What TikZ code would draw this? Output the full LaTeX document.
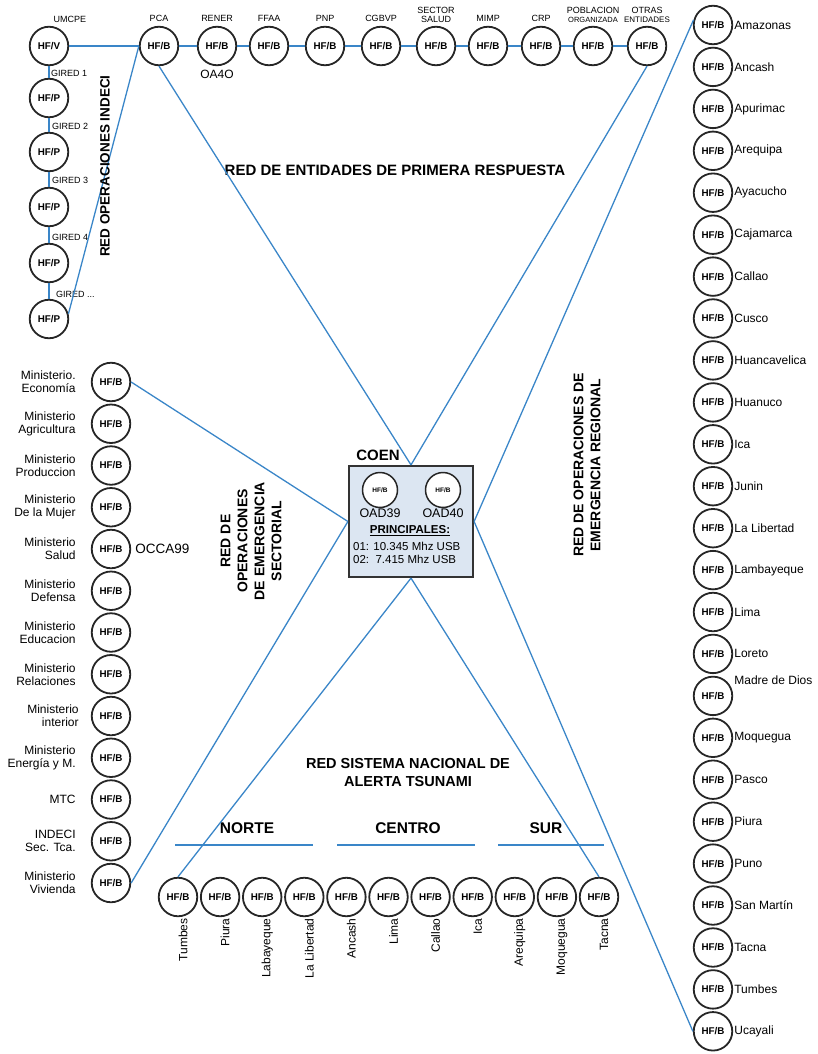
\documentclass[tikz,border=0pt]{standalone}
\usepackage{fontspec}
\setmainfont{Liberation Sans}
\usepackage{xcolor}
\definecolor{linkblue}{RGB}{58,134,200}
\definecolor{boxblue}{RGB}{220,230,242}

\begin{document}
\begin{tikzpicture}[x=1pt,y=-1pt,
  hf/.style={circle,draw=black!85,line width=1.8pt,fill=white,minimum size=38.5pt,inner sep=0pt,font=\bfseries\fontsize{9.8}{10}\selectfont},
  hfsmall/.style={hf,minimum size=35pt,line width=1.5pt,font=\bfseries\fontsize{6.5}{7}\selectfont},
  link/.style={draw=linkblue,line width=1.3pt},
  tag/.style={font=\fontsize{9}{9.5}\selectfont,inner sep=1pt},
  lbl/.style={font=\fontsize{12}{13}\selectfont,inner sep=1pt},
  big/.style={font=\fontsize{12.5}{14}\selectfont,inner sep=1pt},
  heading/.style={font=\bfseries\fontsize{14}{17}\selectfont,align=center},
  sect/.style={font=\bfseries\fontsize{15.5}{17}\selectfont}]

\useasboundingbox (0,0) rectangle (817,1054);

%red indeci
\node [hf,label={[tag,xshift=21pt,label distance=2pt]above:UMCPE}] (umcpe) at (49,46) {HF/V};
\node [hf] (gired1) at (49,98) {HF/P};
\node [hf] (gired2) at (49,152) {HF/P};
\node [hf] (gired3) at (49,207) {HF/P};
\node [hf] (gired4) at (49,263) {HF/P};
\node [hf] (gired5) at (49,319) {HF/P};
\node [tag,anchor=west] (t1) at (50,73) {GIRED 1};
\node [tag,anchor=west] (t2) at (51,126) {GIRED 2};
\node [tag,anchor=west] (t3) at (51,180) {GIRED 3};
\node [tag,anchor=west] (t4) at (51,237) {GIRED 4};
\node [tag,anchor=west] (t5) at (55,294) {GIRED ...};
\draw [link] (umcpe) -- (gired1) (gired1) -- (gired2) (gired2) -- (gired3) (gired3) -- (gired4) (gired4) -- (gired5) ;

%primera respuesta
\node [hf,label={[tag,label distance=3pt]above:PCA}] (pca) at (159,46) {HF/B};
\node [hf,label={[tag,label distance=3pt]above:RENER},label={[big,font=\fontsize{12}{14}\selectfont,label distance=3pt]below:OA4O}] (rener) at (217,46) {HF/B};
\node [hf,label={[tag,label distance=3pt]above:FFAA}] (ffaa) at (269,46) {HF/B};
\node [hf,label={[tag,label distance=3pt]above:PNP}] (pnp) at (325,46) {HF/B};
\node [hf,label={[tag,label distance=3pt]above:CGBVP}] (cgbvp) at (381,46) {HF/B};
\node [hf,label={[tag,align=center,label distance=2pt]above:SECTOR\\SALUD}] (salud) at (436,46) {HF/B};
\node [hf,label={[tag,label distance=3pt]above:MIMP}] (mimp) at (488,46) {HF/B};
\node [hf,label={[tag,label distance=3pt]above:CRP}] (crp) at (541,46) {HF/B};
\node [hf,label={[tag,align=center,label distance=2pt]above:POBLACION\\{\fontsize{7.5}{8}\selectfont ORGANIZADA}}] (pobla) at (593,46) {HF/B};
\node [hf,label={[tag,align=center,label distance=2pt]above:OTRAS\\{\fontsize{8}{8}\selectfont ENTIDADES}}] (otras) at (647,46) {HF/B};
\draw [link] (umcpe) -- (pca) (pca) -- (rener) (rener) -- (ffaa) (ffaa) -- (pnp) (pnp) -- (cgbvp) (cgbvp) -- (salud) (salud) -- (mimp) (mimp) -- (crp) (crp) -- (pobla) (pobla) -- (otras) ;
\draw [link] (pca.west) -- (gired5.15) ;

%coen
\node [draw=black!80,line width=2.2pt,fill=boxblue,minimum width=124pt,minimum height=111pt,inner sep=0pt] (coen) at (411,521.5) {};
\node [font=\bfseries\fontsize{15}{17}\selectfont] (coenname) at (378,455) {COEN};
\node [hfsmall,label={[big,label distance=-1pt]below:OAD39}] (oad39) at (380,490) {HF/B};
\node [hfsmall,label={[big,label distance=-1pt]below:OAD40}] (oad40) at (443,490) {HF/B};
\node [font=\bfseries\fontsize{11.5}{13}\selectfont] (princ) at (410,531) {\underline{PRINCIPALES:}};
\node [font=\fontsize{11.5}{13.5}\selectfont,align=left,anchor=west,inner sep=0pt] (freq) at (353,553) {01: 10.345 Mhz USB\\02:\ \ 7.415 Mhz USB};

%sectorial
\node [hf,label={[lbl,align=right,label distance=14pt]left:Ministerio.\\Economía}] (mecon) at (111,382) {HF/B};
\node [hf,label={[lbl,align=right,label distance=14pt]left:Ministerio\\Agricultura}] (magri) at (111,423.75) {HF/B};
\node [hf,label={[lbl,align=right,label distance=14pt]left:Ministerio\\Produccion}] (mprod) at (111,465.5) {HF/B};
\node [hf,label={[lbl,align=right,label distance=14pt]left:Ministerio\\De la Mujer}] (mmujer) at (111,507.25) {HF/B};
\node [hf,label={[lbl,align=right,label distance=14pt]left:Ministerio\\Salud},label={[lbl,font=\fontsize{13.5}{15}\selectfont,label distance=3pt]right:OCCA99}] (msalud) at (111,549) {HF/B};
\node [hf,label={[lbl,align=right,label distance=14pt]left:Ministerio\\Defensa}] (mdef) at (111,590.75) {HF/B};
\node [hf,label={[lbl,align=right,label distance=14pt]left:Ministerio\\Educacion}] (meduc) at (111,632.5) {HF/B};
\node [hf,label={[lbl,align=right,label distance=14pt]left:Ministerio\\Relaciones}] (mrel) at (111,674.25) {HF/B};
\node [hf,label={[lbl,align=right,label distance=11pt]left:Ministerio\\interior}] (mint) at (111,716) {HF/B};
\node [hf,label={[lbl,align=right,label distance=14pt]left:Ministerio\\Energía y M.}] (mener) at (111,757.75) {HF/B};
\node [hf,label={[lbl,align=right,label distance=14pt]left:MTC}] (mtc) at (111,799.5) {HF/B};
\node [hf,label={[lbl,align=right,label distance=14pt]left:INDECI\\Sec. Tca.}] (indeci) at (111,841.25) {HF/B};
\node [hf,label={[lbl,align=right,label distance=14pt]left:Ministerio\\Vivienda}] (mviv) at (111,883) {HF/B};

%regional
\node [hf,label={[lbl]right:Amazonas}] (rama) at (713,25) {HF/B};
\node [hf,label={[lbl]right:Ancash}] (ranc) at (713,66.9) {HF/B};
\node [hf,label={[lbl]right:Apurimac}] (rapu) at (713,108.9) {HF/B};
\node [hf,label={[lbl]right:Arequipa}] (rare) at (713,150.8) {HF/B};
\node [hf,label={[lbl]right:Ayacucho}] (raya) at (713,192.7) {HF/B};
\node [hf,label={[lbl]right:Cajamarca}] (rcaj) at (713,234.7) {HF/B};
\node [hf,label={[lbl]right:Callao}] (rcal) at (713,276.6) {HF/B};
\node [hf,label={[lbl]right:Cusco}] (rcus) at (713,318.5) {HF/B};
\node [hf,label={[lbl]right:Huancavelica}] (rhua) at (713,360.4) {HF/B};
\node [hf,label={[lbl]right:Huanuco}] (rhco) at (713,402.4) {HF/B};
\node [hf,label={[lbl]right:Ica}] (rica) at (713,444.3) {HF/B};
\node [hf,label={[lbl]right:Junin}] (rjun) at (713,486.2) {HF/B};
\node [hf,label={[lbl]right:La Libertad}] (rlib) at (713,528.2) {HF/B};
\node [hf,label={[lbl]right:Lambayeque}] (rlam) at (713,570.1) {HF/B};
\node [hf,label={[lbl]right:Lima}] (rlim) at (713,612) {HF/B};
\node [hf,label={[lbl]right:Loreto}] (rlor) at (713,653.9) {HF/B};
\node [hf,label={[lbl,yshift=16pt]right:Madre de Dios}] (rmdd) at (713,695.9) {HF/B};
\node [hf,label={[lbl]right:Moquegua}] (rmoq) at (713,737.8) {HF/B};
\node [hf,label={[lbl]right:Pasco}] (rpas) at (713,779.7) {HF/B};
\node [hf,label={[lbl]right:Piura}] (rpiu) at (713,821.7) {HF/B};
\node [hf,label={[lbl]right:Puno}] (rpun) at (713,863.6) {HF/B};
\node [hf,label={[lbl]right:San Martín}] (rsma) at (713,905.5) {HF/B};
\node [hf,label={[lbl]right:Tacna}] (rtac) at (713,947.5) {HF/B};
\node [hf,label={[lbl]right:Tumbes}] (rtum) at (713,989.4) {HF/B};
\node [hf,label={[lbl]right:Ucayali}] (ruca) at (713,1031.3) {HF/B};

%tsunami
\node [hf,label={[lbl,rotate=90,anchor=east,label distance=5pt]below:Tumbes}] (ntum) at (178,897) {HF/B};
\node [hf,label={[lbl,rotate=90,anchor=east,label distance=5pt]below:Piura}] (npiu) at (220.1,897) {HF/B};
\node [hf,label={[lbl,rotate=90,anchor=east,label distance=5pt]below:Labayeque}] (nlab) at (262.2,897) {HF/B};
\node [hf,label={[lbl,rotate=90,anchor=east,label distance=5pt]below:La Libertad}] (nlib) at (304.3,897) {HF/B};
\node [hf,label={[lbl,rotate=90,anchor=east,label distance=5pt]below:Ancash}] (canc) at (346.4,897) {HF/B};
\node [hf,label={[lbl,rotate=90,anchor=east,label distance=5pt]below:Lima}] (clim) at (388.5,897) {HF/B};
\node [hf,label={[lbl,rotate=90,anchor=east,label distance=5pt]below:Callao}] (ccal) at (430.6,897) {HF/B};
\node [hf,label={[lbl,rotate=90,anchor=east,label distance=5pt]below:Ica}] (cica) at (472.7,897) {HF/B};
\node [hf,label={[lbl,rotate=90,anchor=east,label distance=5pt]below:Arequipa}] (sare) at (514.8,897) {HF/B};
\node [hf,label={[lbl,rotate=90,anchor=east,label distance=5pt]below:Moquegua}] (smoq) at (556.9,897) {HF/B};
\node [hf,label={[lbl,rotate=90,anchor=east,label distance=5pt]below:Tacna}] (stac) at (599,897) {HF/B};

\node [sect] (norte) at (247,828) {NORTE};
\node [sect] (centro) at (408,828) {CENTRO};
\node [sect] (sur) at (546,828) {SUR};
\coordinate (nl) at (175,845) ; \coordinate (nr) at (313,845) ;
\coordinate (cl) at (337,845) ; \coordinate (cr) at (475,845) ;
\coordinate (sl) at (498,845) ; \coordinate (sr) at (604,845) ;
\draw [link] (nl) -- (nr) (cl) -- (cr) (sl) -- (sr) ;

%titles
\node [heading,font=\bfseries\fontsize{15}{17}\selectfont] (tprim) at (395,170) {RED DE ENTIDADES DE PRIMERA RESPUESTA};
\node [heading,font=\bfseries\fontsize{13.5}{16}\selectfont,rotate=90] (tindeci) at (105,166) {RED OPERACIONES INDECI};
\node [heading,rotate=90] (tregion) at (587,465) {RED DE OPERACIONES DE\\EMERGENCIA REGIONAL};
\node [heading,rotate=90] (tsector) at (251,541) {RED DE\\OPERACIONES\\DE EMERGENCIA\\SECTORIAL};
\node [heading,font=\bfseries\fontsize{14.5}{18}\selectfont] (ttsun) at (408,772) {RED SISTEMA NACIONAL DE\\ALERTA TSUNAMI};

%the cross
\draw [link] (pca.south) -- (coen.north) ;
\draw [link] (otras.south) -- (coen.north) ;
\draw [link] (mecon.east) -- (coen.west) ;
\draw [link] (mviv.east) -- (coen.west) ;
\draw [link] (rama.165) -- (coen.east) ;
\draw [link] (ruca.west) -- (coen.east) ;
\draw [link] (ntum.north) -- (coen.south) ;
\draw [link] (stac.north) -- (coen.south) ;

\end{tikzpicture}
\end{document}
